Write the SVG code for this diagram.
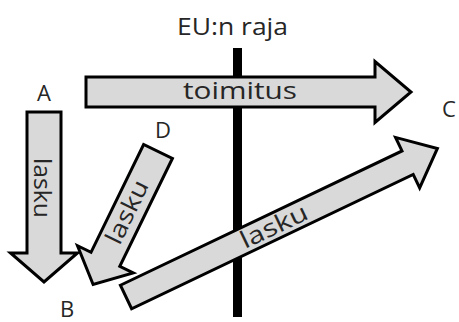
<svg xmlns="http://www.w3.org/2000/svg" width="459" height="322" viewBox="0 0 459 322">
<style>
.arr{fill:#d9d9d9;stroke:#000;stroke-width:3;stroke-linejoin:miter}
.t{font-family:"Open Sans","Liberation Sans",sans-serif;font-size:24px;fill:#262626}
.lbl{font-family:"Open Sans","Liberation Sans",sans-serif;font-size:22px;fill:#262626}
</style>
<rect width="459" height="322" fill="#fff"/>
<g id="border">
<rect x="233" y="48" width="9" height="269" fill="#000"/>
<text class="t" x="232.5" y="35" text-anchor="middle" textLength="111" lengthAdjust="spacingAndGlyphs">EU:n raja</text>
</g>
<g id="A"><text class="lbl" x="44" y="101" text-anchor="middle">A</text></g>
<g id="B"><text class="lbl" x="60" y="317">B</text></g>
<g id="C"><text class="lbl" x="442" y="117">C</text></g>
<g id="D"><text class="lbl" x="155" y="138">D</text></g>
<g id="connectors">
<g id="toimitus" transform="translate(86,92)">
<path class="arr" d="M0,-15 L289,-15 L289,-30.5 L325,0 L289,30.5 L289,15 L0,15 Z"/>
<text class="t" x="154" y="7" text-anchor="middle" textLength="114" lengthAdjust="spacingAndGlyphs">toimitus</text>
</g>
<g id="lasku-AB" transform="translate(44,112) rotate(90)">
<path class="arr" d="M0,-17 L141,-17 L141,-33.5 L170,0 L141,33.5 L141,17 L0,17 Z"/>
<text class="t" x="76" y="10" text-anchor="middle" textLength="60" lengthAdjust="spacingAndGlyphs">lasku</text>
</g>
<g id="lasku-DB" transform="translate(158,151.5) rotate(116)">
<path class="arr" d="M0,-16 L120,-16 L120,-31 L148,0 L120,31 L120,16 L0,16 Z"/>
<text class="t" transform="translate(68,-7) rotate(180)" text-anchor="middle" textLength="68" lengthAdjust="spacingAndGlyphs">lasku</text>
</g>
<g id="lasku-BC" transform="translate(126,297) rotate(-25.5)">
<path class="arr" d="M0,-13 L312,-13 L312,-28 L345,0 L312,28 L312,13 L0,13 Z"/>
<text class="t" x="164" y="8" text-anchor="middle" textLength="72" lengthAdjust="spacingAndGlyphs">lasku</text>
</g>
</g>
</svg>
